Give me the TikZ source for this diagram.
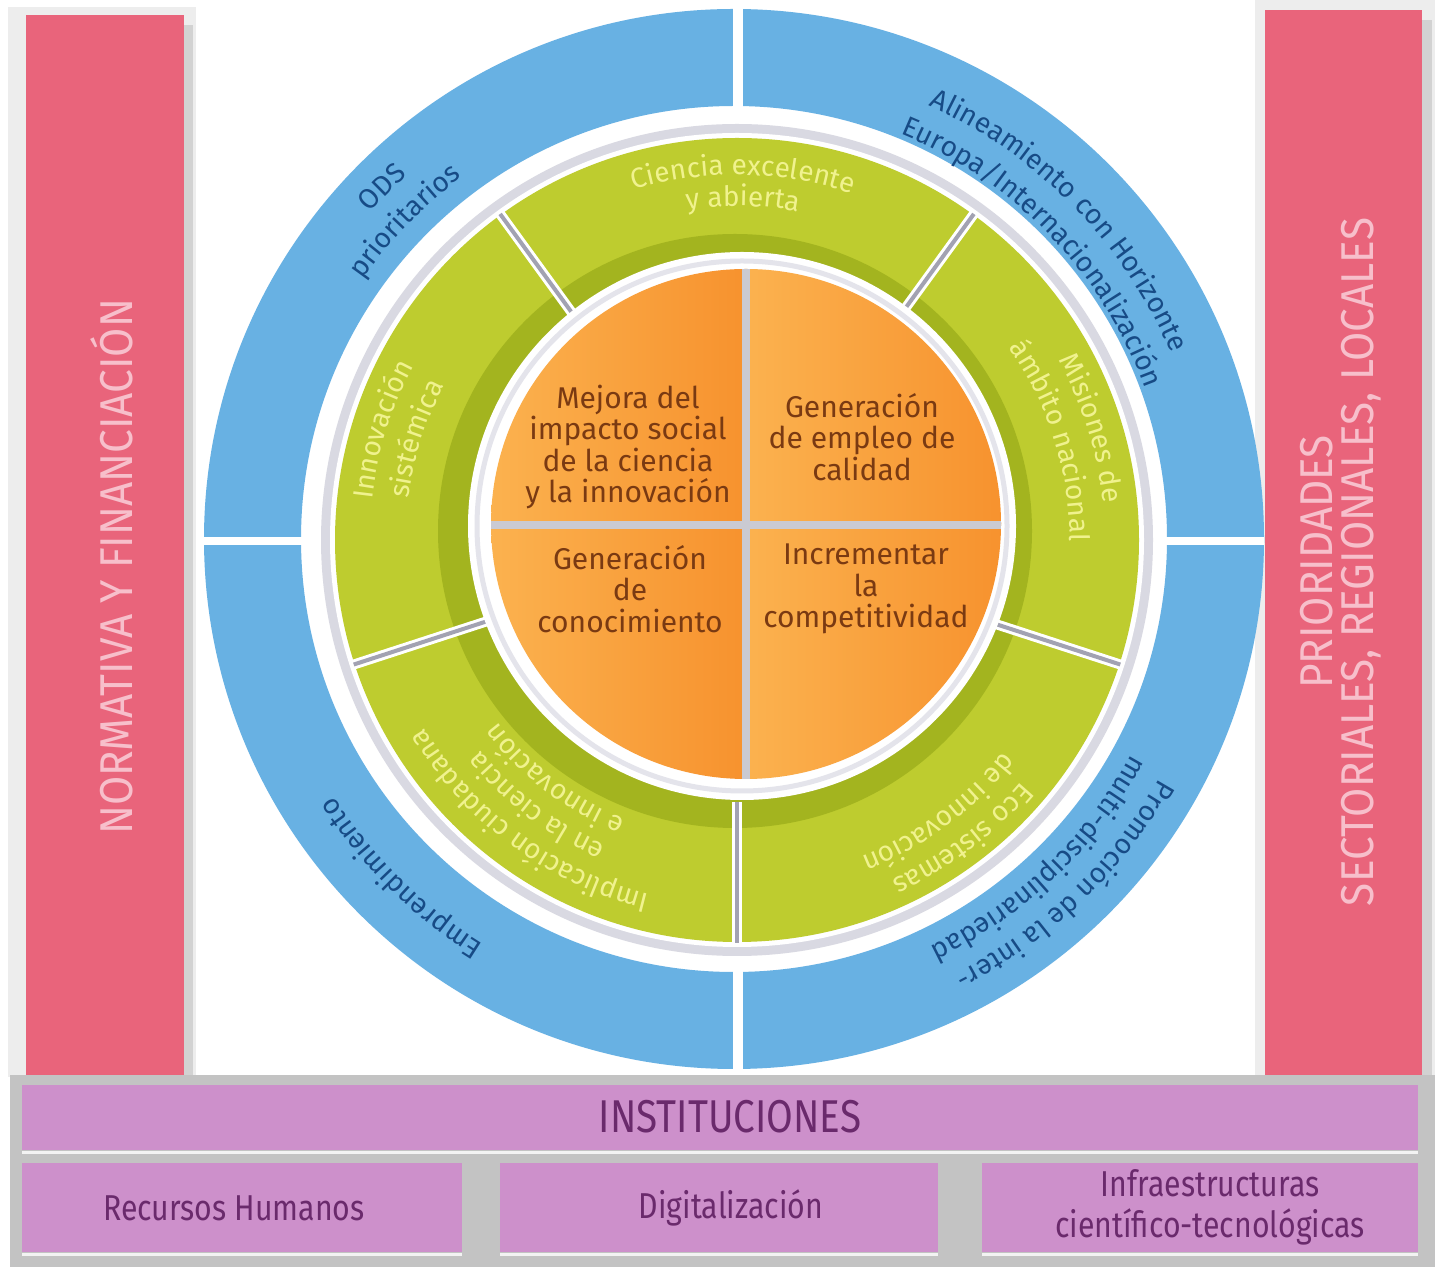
\documentclass[tikz,border=0pt]{standalone}
\usepackage{fontspec}
\setmainfont{Fira Sans}
\newfontfamily\condfont[FakeStretch=0.84]{Fira Sans}
\newfontfamily\pinkfont[FakeStretch=0.92]{Fira Sans}
\usetikzlibrary{decorations.text}
\definecolor{pinkbar}{HTML}{E9647B}
\definecolor{pinktext}{HTML}{F7BFCB}
\definecolor{framegray}{HTML}{EDEDED}
\definecolor{shadowgray}{HTML}{D2D2D2}
\definecolor{ringblue}{HTML}{68B1E3}
\definecolor{bluetext}{HTML}{174B86}
\definecolor{ringgray}{HTML}{D9D9E2}
\definecolor{greenseg}{HTML}{BECC2F}
\definecolor{greendark}{HTML}{A3B41F}
\definecolor{greentext}{HTML}{F0F28E}
\definecolor{sepgray}{HTML}{A2A2B2}
\definecolor{orangeL}{HTML}{FBB24F}
\definecolor{orangeR}{HTML}{F7922E}
\definecolor{orangetext}{HTML}{7A3A12}
\definecolor{divgray}{HTML}{CACAD2}
\definecolor{panelgray}{HTML}{C3C3C3}
\definecolor{purplebox}{HTML}{CD90CB}
\definecolor{purpletext}{HTML}{6A2A6C}
\newcommand{\bluelabfont}{\fontsize{28}{28}\selectfont}
\newcommand{\greenlabfont}{\fontsize{28}{28}\selectfont}
% #1 centre, #2 radius, #3 middle angle, #4 font macro, #5 colour, #6 text
\newcommand{\arclabel}[6]{%
  \path[shift={(#1)}, decorate, decoration={text along path, text align=center,
     text color=#5, text={|#4|#6}}]
     ({#3+80}:#2) arc[start angle={#3+80}, end angle={#3-80}, radius=#2];
}
\tikzset{
  otext/.style={align=center, text=orangetext, inner sep=0pt,
     font=\fontsize{30}{31.5}\selectfont},
  pinklab/.style={align=center, text=pinktext, inner sep=0pt, rotate=90,
     font=\pinkfont\fontsize{46}{41}\selectfont},
  ptext/.style={align=center, text=purpletext, inner sep=0pt,
     font=\condfont\fontsize{36}{41}\selectfont},
  pbox/.style={fill=purplebox},
  bevel/.style={draw=white!80!panelgray, line width=3pt}
}
\begin{document}
\begin{tikzpicture}[x=1pt,y=1pt]
\useasboundingbox (0,0) rectangle (1435,1267);
\fill[white] (0,0) rectangle (1435,1267);
\coordinate (C) at (734,728);
\coordinate (G) at (737,727);
\coordinate (W) at (742,741);
\coordinate (O) at (746,743);

% side bars
\fill[framegray] (8,190) rectangle (196,1260);
\fill[shadowgray] (183,190) rectangle (193,1242);
\fill[pinkbar] (26,190) rectangle (184,1252);
\fill[framegray] (1255,190) rectangle (1435,1267);
\fill[shadowgray] (1422,190) rectangle (1432,1247);
\fill[pinkbar] (1265,190) rectangle (1422,1257);
\node[pinklab] (norm) at (112,700) {NORMATIVA Y FINANCIACIÓN};
\node[pinklab] (prio) at (1341,705) {PRIORIDADES\\SECTORIALES, REGIONALES, LOCALES};

% blue ring
\fill[ringblue, even odd rule] (C) circle (530) (C) circle (433);
\fill[white] (733,190) rectangle (743,1264);
\fill[white] (200,722) rectangle (1264,730);

% halo and green ring
\fill[ringgray] (G) circle (416);
\fill[white] (G) circle (407);
\fill[greenseg] (G) circle (402);
\fill[greendark] (735,736) circle (297);
\foreach \a in {54,126,198,270,342}{
  \draw[white, line width=10pt] (G) ++(\a:262) -- ++(\a:141);
  \draw[sepgray, line width=4pt] (G) ++(\a:262) -- ++(\a:141);
}

% white ring and orange core
\fill[white] (W) circle (274);
\draw[ringgray!70, line width=5pt] (W) circle (265);
\begin{scope}
\clip (O) circle (255);
\shade[left color=orangeL, right color=orangeR] (490,743) rectangle (746,1000);
\shade[left color=orangeL, right color=orangeR] (746,743) rectangle (1002,1000);
\shade[left color=orangeL, right color=orangeR] (490,486) rectangle (746,743);
\shade[left color=orangeL, right color=orangeR] (746,486) rectangle (1002,743);
\draw[divgray, line width=8pt] (746,486) -- (746,1000);
\draw[divgray, line width=8pt] (489,742) -- (1003,742);
\end{scope}
\node[otext] (q1) at (628,820) {Mejora del\\impacto social\\de la ciencia\\y la innovación};
\node[otext] (q2) at (862,830) {Generación\\de empleo de\\calidad};
\node[otext] (q3) at (630,678) {Generación\\de\\conocimiento};
\node[otext] (q4) at (866,678) {Incrementar\\la\\competitividad};

% green labels
\arclabel{G}{365}{89}{\greenlabfont}{greentext}{Ciencia excelente}
\arclabel{G}{334}{89}{\greenlabfont}{greentext}{y abierta}
\arclabel{G}{367}{162.7}{\greenlabfont}{greentext}{Innovación}
\arclabel{G}{331}{162.5}{\greenlabfont}{greentext}{sistémica}
\arclabel{G}{368}{17.5}{\greenlabfont}{greentext}{Misiones de}
\arclabel{G}{333}{17.5}{\greenlabfont}{greentext}{ámbito nacional}
\arclabel{G}{365}{233.5}{\greenlabfont}{greentext}{Implicación ciudadana}
\arclabel{G}{332}{233}{\greenlabfont}{greentext}{en la ciencia}
\arclabel{G}{301}{232.7}{\greenlabfont}{greentext}{e innovación}
\arclabel{G}{373}{307}{\greenlabfont}{greentext}{Eco sistemas}
\arclabel{G}{340}{306.5}{\greenlabfont}{greentext}{de innovación}

% blue labels
\arclabel{C}{489}{135}{\bluelabfont}{bluetext}{ODS}
\arclabel{C}{453}{136}{\bluelabfont}{bluetext}{prioritarios}
\arclabel{C}{475}{44.4}{\bluelabfont}{bluetext}{Alineamiento con Horizonte}
\arclabel{C}{438}{43.9}{\bluelabfont}{bluetext}{Europa/Internacionalización}
\arclabel{C}{476}{225.5}{\bluelabfont}{bluetext}{Emprendimiento}
\arclabel{C}{488}{313.7}{\bluelabfont}{bluetext}{Promoción de la inter-}
\arclabel{C}{452}{313.6}{\bluelabfont}{bluetext}{multi-disciplinariedad}

% bottom panel
\fill[panelgray] (10,0) rectangle (1435,192);
\path[bevel] (22,115) -- (1418,115);
\path[bevel] (22,13) -- (462,13);
\path[bevel] (500,13) -- (938,13);
\path[bevel] (982,13) -- (1418,13);
\fill[pbox] (22,117) rectangle (1418,182);
\fill[pbox] (22,15) rectangle (462,104);
\fill[pbox] (500,15) rectangle (938,104);
\fill[pbox] (982,15) rectangle (1418,104);
\node[ptext, font=\condfont\fontsize{46}{46}\selectfont] (inst) at (730,150) {INSTITUCIONES};
\node[ptext] (rh) at (234,59) {Recursos Humanos};
\node[ptext] (dig) at (731,59) {Digitalización};
\node[ptext] (inf) at (1210,60) {Infraestructuras\\científico-tecnológicas};
\end{tikzpicture}
\end{document}
